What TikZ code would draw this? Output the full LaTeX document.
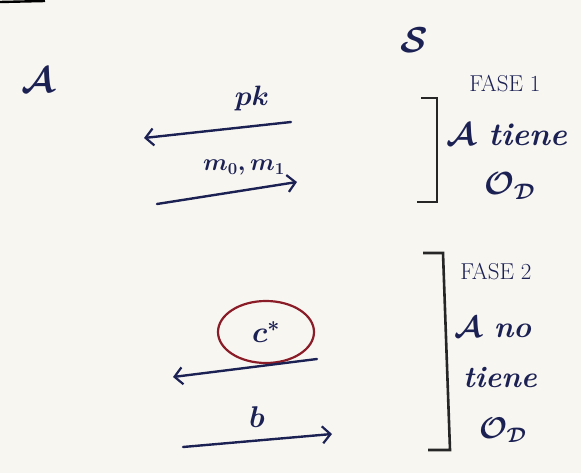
\documentclass[tikz,border=0pt]{standalone}
\usepackage{fix-cm}
\usetikzlibrary{arrows.meta,shapes.geometric}
\definecolor{inkc}{HTML}{1C2154}
\definecolor{ellred}{HTML}{8A1C28}
\definecolor{paper}{HTML}{F8F6F1}
\begin{document}
\begin{tikzpicture}[x=1pt,y=-1pt,
  ink/.style={draw=inkc, line width=2.4pt, line cap=round},
  msg/.style={ink, -{Straight Barb[length=8pt,width=17pt,line width=2.2pt]}},
  brk/.style={draw=black!85, line width=2.6pt, line join=miter},
  lbl/.style={text=inkc, inner sep=0pt},
  fs/.style={font=\fontsize{#1}{#1}\selectfont\boldmath\bfseries}
]
\fill[paper] (0,0) rectangle (581,473);
\useasboundingbox (0,0) rectangle (581,473);
\coordinate (t1) at (0,2); \coordinate (t2) at (45,1);
\draw[black, line width=2.4pt] (t1) -- (t2);

% parties
\node[lbl, fs=36] (A) at (38,80) {$\mathcal{A}$};
\node[lbl, fs=36] (S) at (414,40) {$\mathcal{S}$};

% phase 1 messages
\coordinate (pkS) at (291,122); \coordinate (pkA) at (144,138);
\draw[msg] (pkS) -- (pkA);
\node[lbl, fs=28] (pk) at (252,99) {$pk$};
\coordinate (mA) at (157,204); \coordinate (mS) at (297,182);
\draw[msg] (mA) -- (mS);
\node[lbl, fs=24] (m) at (244,168) {$m_0, m_1$};

% phase 1 bracket
\coordinate (b1a) at (421,98); \coordinate (b1b) at (437,98);
\coordinate (b1c) at (437,202); \coordinate (b1d) at (417,202);
\draw[brk] (b1a) -- (b1b) -- (b1c) -- (b1d);
\node[lbl, font=\fontsize{23}{23}\selectfont] (f1) at (505,84) {FASE 1};
\node[lbl, fs=32] (t1n) at (507,135) {$\mathcal{A}$ \itshape tiene};
\node[lbl, fs=32] (o1) at (510,186) {$\mathcal{O}_{\mathcal{D}}$};

% phase 2 messages
\node[lbl, fs=30, draw=ellred, line width=2.2pt, ellipse, minimum width=96pt, minimum height=62pt] (cs) at (266,332) {$c^*$};
\coordinate (cS) at (317,359); \coordinate (cA) at (173,377);
\draw[msg] (cS) -- (cA);
\coordinate (bA) at (183,447); \coordinate (bS) at (332,434);
\draw[msg] (bA) -- (bS);
\node[lbl, fs=30] (b) at (257,417) {$b$};

% phase 2 bracket
\coordinate (b2a) at (423,253); \coordinate (b2b) at (443,253);
\coordinate (b2c) at (450,450); \coordinate (b2d) at (428,450);
\draw[brk] (b2a) -- (b2b) -- (b2c) -- (b2d);
\node[lbl, font=\fontsize{23}{23}\selectfont] (f2) at (496,272) {FASE 2};
\node[lbl, fs=30] (n2) at (493,327) {$\mathcal{A}$ \itshape no};
\node[lbl, fs=30] (t2n) at (500,378) {\itshape tiene};
\node[lbl, fs=30] (o2) at (503,430) {$\mathcal{O}_{\mathcal{D}}$};
\end{tikzpicture}
\end{document}
